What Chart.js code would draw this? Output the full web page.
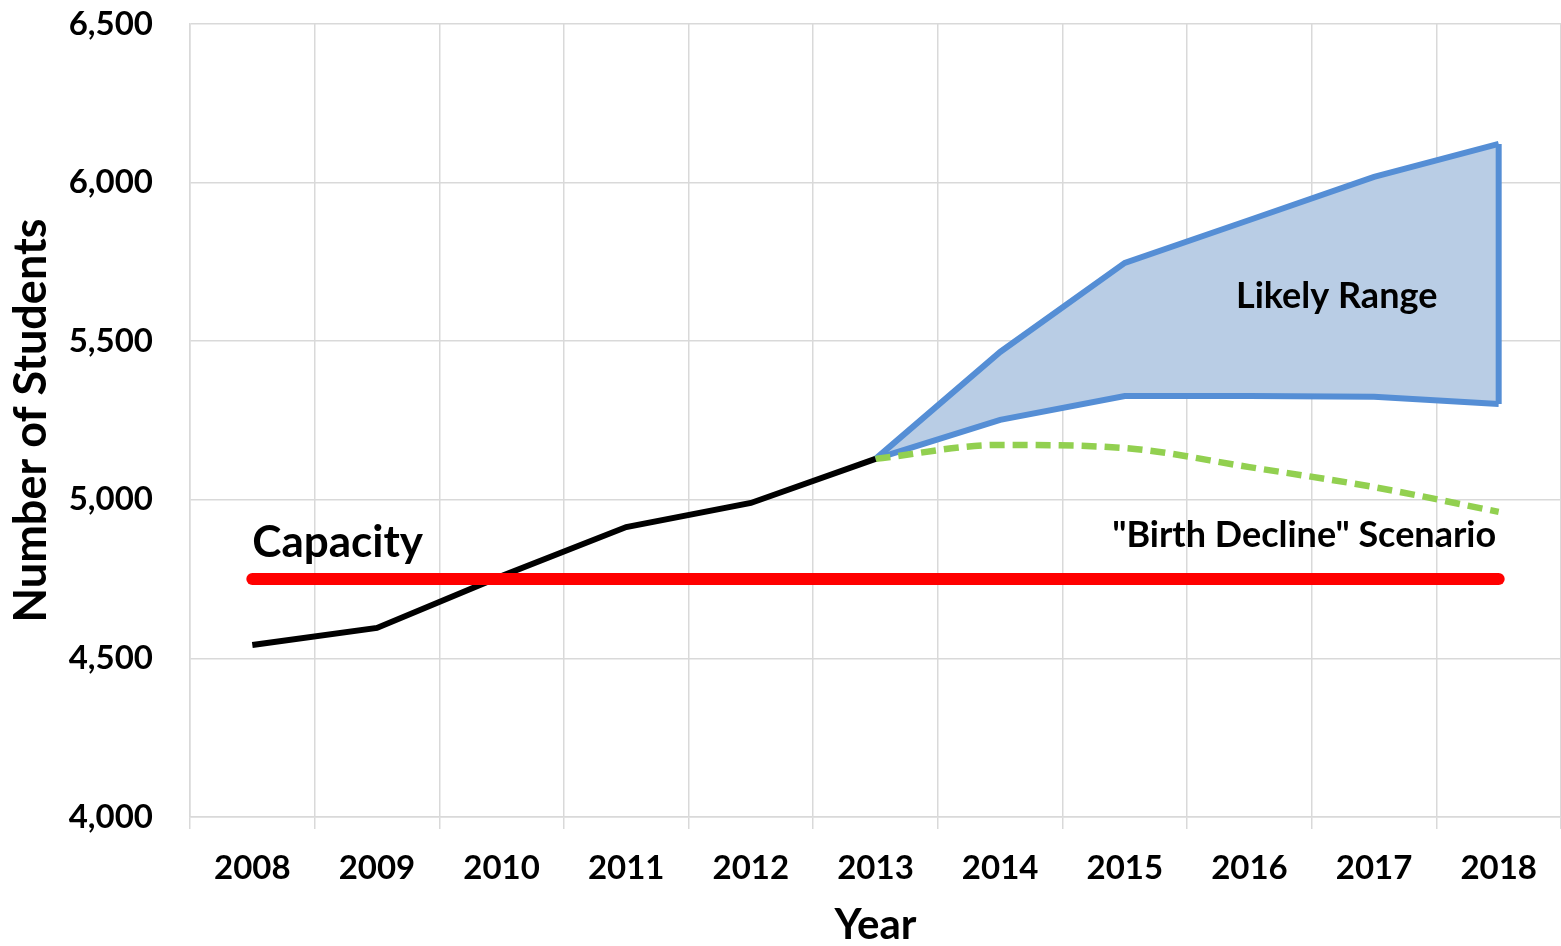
<!DOCTYPE html>
<html>
<head>
<meta charset="utf-8">
<script src="https://cdn.jsdelivr.net/npm/chart.js@4.4.1/dist/chart.umd.min.js"></script>
<style>
  html, body { margin: 0; padding: 0; background: #fff; }
  #wrap { width: 1561px; height: 946px; position: relative; }
</style>
</head>
<body>
<div id="wrap"><canvas id="c" width="1561" height="946"></canvas></div>
<script>
const years = ['2008','2009','2010','2011','2012','2013','2014','2015','2016','2017','2018'];
const actual = [4542, 4596, 4760, 4914, 4990, 5129, null, null, null, null, null];
const capacity = [4750, 4750, 4750, 4750, 4750, 4750, 4750, 4750, 4750, 4750, 4750];
const rangeHigh = [null, null, null, null, null, 5129, 5466, 5747, 5882, 6018, 6122];
const rangeLow = [null, null, null, null, null, 5129, 5252, 5327, 5327, 5325, 5302];
const birthDecline = [null, null, null, null, null, 5129, 5173, 5163, 5103, 5040, 4962];
const yTicks = [4000, 4500, 5000, 5500, 6000, 6500];

const FONT = 'Lato, "Open Sans", sans-serif';
const BLUE = '#558ED5';

const notesPlugin = {
  id: 'notes',
  afterDatasetsDraw(chart) {
    const ctx = chart.ctx;
    const xs = chart.scales.x, ys = chart.scales.y;
    const notes = [
      { text: 'Capacity', xi: 0, yv: 4820, align: 'left', size: 44 },
      { text: 'Likely Range', xi: 8.7, yv: 5605, align: 'center', size: 36 },
      { text: '"Birth Decline" Scenario', xi: 9.98, yv: 4851, align: 'right', size: 36 }
    ];
    ctx.save();
    ctx.fillStyle = '#000';
    ctx.textBaseline = 'alphabetic';
    for (const n of notes) {
      ctx.font = 'bold ' + n.size + 'px ' + FONT;
      ctx.textAlign = n.align;
      ctx.fillText(n.text, xs.getPixelForValue(n.xi), ys.getPixelForValue(n.yv));
    }
    ctx.restore();
  }
};

new Chart(document.getElementById('c'), {
  type: 'line',
  data: {
    labels: years,
    datasets: [
      { label: 'Capacity', data: capacity, borderColor: '#FF0000', borderWidth: 12,
        borderCapStyle: 'round', pointRadius: 0, fill: false, order: 0 },
      { label: 'Actual', data: actual, borderColor: '#000000', borderWidth: 6,
        pointRadius: 0, fill: false, order: 1 },
      { label: 'Birth Decline', data: birthDecline, borderColor: '#92D050', borderWidth: 6.5,
        borderDash: [15, 8], pointRadius: 0, fill: false, cubicInterpolationMode: 'monotone', order: 2 },
      { label: 'High', data: rangeHigh, borderColor: BLUE, borderWidth: 6,
        backgroundColor: '#B9CDE5', fill: '+1', pointRadius: 0, order: 4 },
      { label: 'Low', data: rangeLow, borderColor: BLUE, borderWidth: 6,
        pointRadius: 0, fill: false, order: 3 },
      { label: 'Edge', data: [{ x: years[10], y: rangeHigh[10] }, { x: years[10], y: rangeLow[10] }],
        borderColor: BLUE, borderWidth: 6, pointRadius: 0, fill: false, order: 3 }
    ]
  },
  options: {
    responsive: false,
    animation: false,
    events: [],
    layout: { padding: { top: 24, right: 0, left: 0, bottom: 0 } },
    plugins: { legend: { display: false }, tooltip: { enabled: false } },
    scales: {
      x: {
        offset: true,
        grid: { offset: true, color: '#D9D9D9', lineWidth: 1.5, drawTicks: true, tickLength: 12, tickColor: '#D9D9D9' },
        border: { color: '#D9D9D9', width: 1.5 },
        ticks: { color: '#000', font: { family: FONT, size: 33, weight: 'bold' }, padding: 20, maxRotation: 0, autoSkip: false },
        title: { display: true, text: 'Year', color: '#000', font: { family: FONT, size: 42, weight: 'bold', lineHeight: 1 }, padding: { top: 0, bottom: 0 } },
        afterFit(s) { s.height = 129; s.paddingLeft = 0; s.paddingRight = 0; }
      },
      y: {
        min: 4000, max: 6500,
        afterBuildTicks(s) { s.ticks = yTicks.map(v => ({ value: v })); },
        grid: { color: '#D9D9D9', lineWidth: 1.5, drawTicks: false },
        border: { color: '#D9D9D9', width: 1.5 },
        ticks: { color: '#000', font: { family: FONT, size: 33, weight: 'bold' }, padding: 37,
          callback: v => v.toLocaleString('en-US') },
        title: { display: true, text: 'Number of Students', color: '#000', font: { family: FONT, size: 45, weight: 'bold', lineHeight: 1 }, padding: { top: 9, bottom: 0 } },
        afterFit(s) { s.width = 190; s.paddingTop = 0; s.paddingBottom = 0; }
      }
    }
  },
  plugins: [notesPlugin]
});
</script>
</body>
</html>
